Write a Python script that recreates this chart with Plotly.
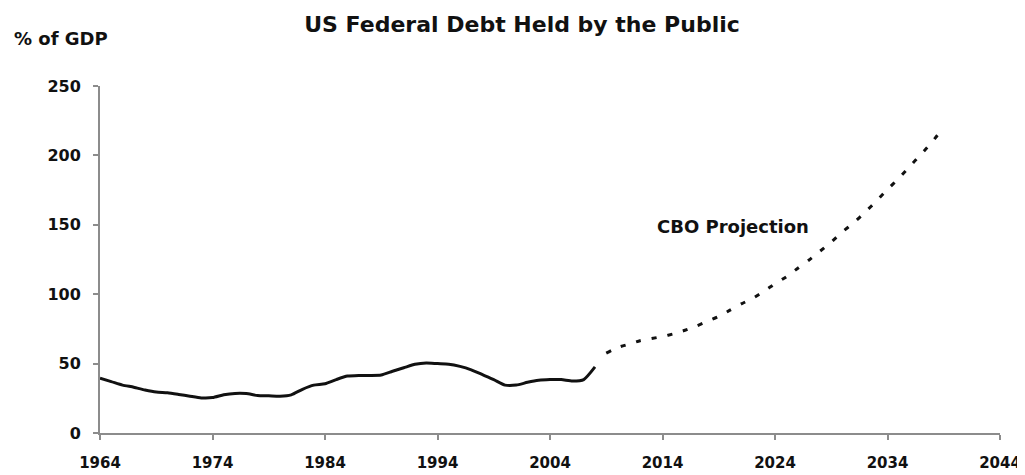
import plotly.graph_objects as go

# Historical debt held by the public (% of GDP)
hist_years = list(range(1964, 2009))
hist_values = [39.4, 37.0, 34.5, 33.0, 31.0, 29.5, 29.0, 27.8, 26.5, 25.3,
               25.5, 27.5, 28.5, 28.4, 27.0, 26.8, 26.5, 27.5, 31.5, 34.5,
               35.5, 38.5, 41.0, 41.5, 41.5, 41.8, 44.5, 47.0, 49.5, 50.5,
               50.0, 49.6, 48.0, 45.5, 42.0, 38.5, 34.5, 34.5, 36.5, 38.0,
               38.5, 38.5, 37.5, 38.5, 47.6]

# CBO projection (% of GDP)
proj_years = list(range(2008, 2040))
proj_values = [47.6, 57.5, 61.5, 64.0, 66.5, 68.0, 69.5, 71.5, 74.0, 77.0,
               80.5, 84.0, 88.5, 93.0, 97.0, 102.0, 107.5, 112.5, 118.5, 124.5,
               131.0, 137.5, 145.0, 151.5, 159.0, 167.0, 175.5, 183.5, 192.3, 201.0,
               210.0, 220.5]

x_ticks = [1964, 1974, 1984, 1994, 2004, 2014, 2024, 2034, 2044]
y_ticks = [0, 50, 100, 150, 200, 250]

FONT = "DejaVu Sans"

fig = go.Figure()
fig.add_trace(go.Scatter(x=hist_years, y=hist_values, mode="lines",
                         line=dict(color="#111111", width=3, shape="spline", smoothing=0.6),
                         showlegend=False, hoverinfo="skip"))
fig.add_trace(go.Scatter(x=proj_years[1:], y=proj_values[1:], mode="lines",
                         line=dict(color="#111111", width=3, dash="5px,11px", shape="spline", smoothing=0.6),
                         showlegend=False, hoverinfo="skip"))

fig.add_annotation(x=2020.3, y=148.6, xref="x", yref="y", text="<b>CBO Projection</b>",
                   showarrow=False, font=dict(family=FONT, size=18, color="#111111"))
fig.add_annotation(x=-0.098, y=1.138, xref="paper", yref="paper", text="<b>% of GDP</b>",
                   xanchor="left", yanchor="middle", showarrow=False,
                   font=dict(family=FONT, size=18, color="#111111"))

# page body has an 8px default margin, so the figure is sized/offset to compensate
fig.update_layout(
    width=1025, height=467,
    margin=dict(l=92, r=33, t=78, b=42, autoexpand=False),
    paper_bgcolor="white", plot_bgcolor="white",
    title=dict(text="<b>US Federal Debt Held by the Public</b>", x=514 / 1025, xanchor="center",
               y=0.966, yanchor="middle", font=dict(family=FONT, size=22, color="#111111")),
    xaxis=dict(range=[1964, 2044], tickvals=x_ticks, ticktext=[f"<b>{t}</b>" for t in x_ticks],
               showgrid=False, zeroline=False, showline=True, linecolor="#8c8c8c", linewidth=2,
               ticks="outside", ticklen=5, tickcolor="#8c8c8c", tickwidth=2,
               ticklabelstandoff=10, automargin=False, ticklabeloverflow="allow",
               tickfont=dict(family=FONT, size=15, color="#111111")),
    yaxis=dict(range=[0, 250], tickvals=y_ticks, ticktext=[f"<b>{t}</b>" for t in y_ticks],
               showgrid=False, zeroline=False, showline=True, linecolor="#8c8c8c", linewidth=2,
               ticks="outside", ticklen=5, tickcolor="#8c8c8c", tickwidth=2,
               ticklabelstandoff=9, automargin=False,
               tickfont=dict(family=FONT, size=16, color="#111111")),
)

fig.write_html("out.html")
